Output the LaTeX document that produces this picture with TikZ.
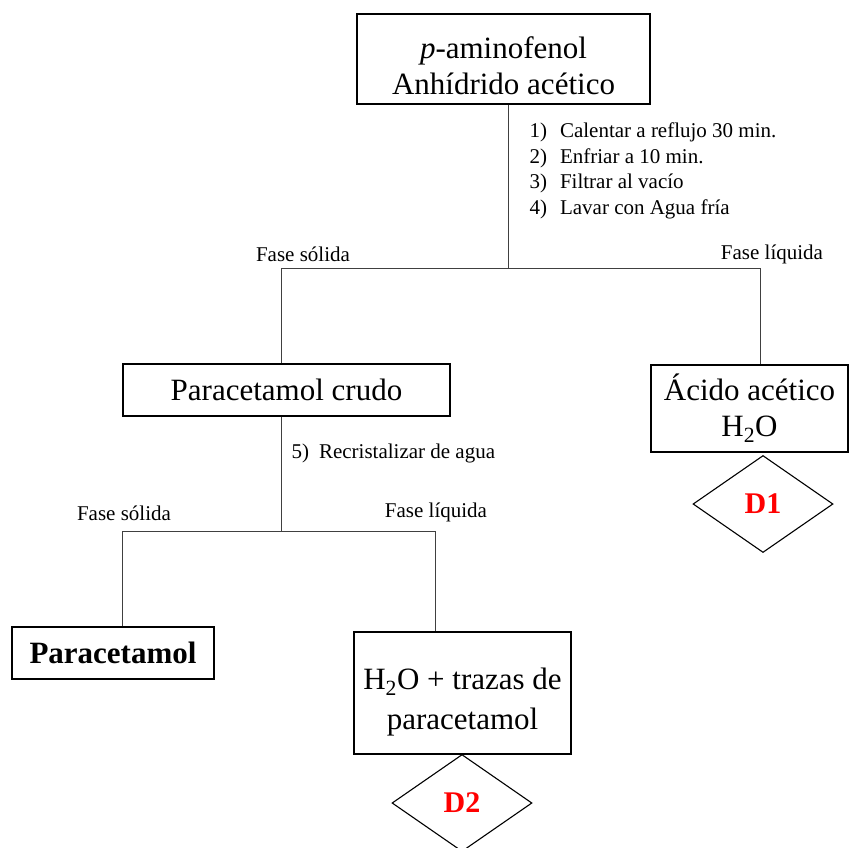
\documentclass[tikz,border=0pt]{standalone}
\usepackage{fontspec}
\setmainfont{Liberation Serif}
\usetikzlibrary{shapes.geometric}

\begin{document}
\begin{tikzpicture}[x=1pt, y=-1pt,
	caja/.style = {draw, line width=1.3pt, align=center, inner sep=0pt, font=\fontsize{31}{36}\selectfont},
	rombo/.style = {draw, diamond, line width=1.1pt, inner sep=0pt, minimum width=140pt, minimum height=97pt, text=red, font=\fontsize{30}{32}\selectfont\bfseries},
	fase/.style = {font=\fontsize{21}{25.7}\selectfont},
	linea/.style = {line width=0.9pt, black!75}]
	\useasboundingbox (0,0) rectangle (851,848);

	\node (AF) at (503.5,59) [caja, minimum width=293pt, minimum height=90pt] {\rule{0pt}{35pt}\textit{p}-aminofenol\\Anhídrido acético};
	\node (pasos) at (526,171) [fase, anchor=west, align=left] {1)\hspace{13pt}Calentar a reflujo 30 min.\\2)\hspace{13pt}Enfriar a 10 min.\\3)\hspace{13pt}Filtrar al vacío\\4)\hspace{13pt}Lavar con Agua fría};

	\coordinate (j1) at (508,268);
	\coordinate (s1) at (281,268);
	\coordinate (l1) at (760,268);
	\node (fs1) at (303,254) [fase] {Fase sólida};
	\node (fl1) at (772,254) [fase] {Fase líquida};

	\node (Cr) at (286.5,390) [caja, minimum width=327pt, minimum height=52pt] {Paracetamol crudo};
	\node (Ac) at (749.5,408.5) [caja, minimum width=197pt, minimum height=87pt] {Ácido acético\\H\textsubscript{2}O};
	\node (D1) at (763,504) [rombo] {D1};

	\draw [linea] (AF.south -| j1) -- (j1);
	\draw [linea] (Cr.north -| s1) -- (s1) -- (l1) -- (Ac.north -| l1);

	\node (rec) at (288,453) [fase, anchor=west] {5)\hspace{10pt}Recristalizar de agua};

	\coordinate (j2) at (281,531);
	\coordinate (s2) at (122,531);
	\coordinate (l2) at (435,531);
	\node (fs2) at (124,513) [fase] {Fase sólida};
	\node (fl2) at (436,512) [fase] {Fase líquida};

	\node (Pr) at (113,653) [caja, minimum width=202pt, minimum height=52pt, font=\fontsize{31}{36}\selectfont\bfseries] {Paracetamol};
	\node (Tr) at (462.5,693) [caja, minimum width=217pt, minimum height=122pt, font=\fontsize{31}{40}\selectfont] {\rule{0pt}{40pt}H\textsubscript{2}O + trazas de\\paracetamol};
	\node (D2) at (462,803) [rombo] {D2};

	\draw [linea] (Cr.south -| j2) -- (j2);
	\draw [linea] (Pr.north -| s2) -- (s2) -- (l2) -- (Tr.north -| l2);
\end{tikzpicture}
\end{document}
